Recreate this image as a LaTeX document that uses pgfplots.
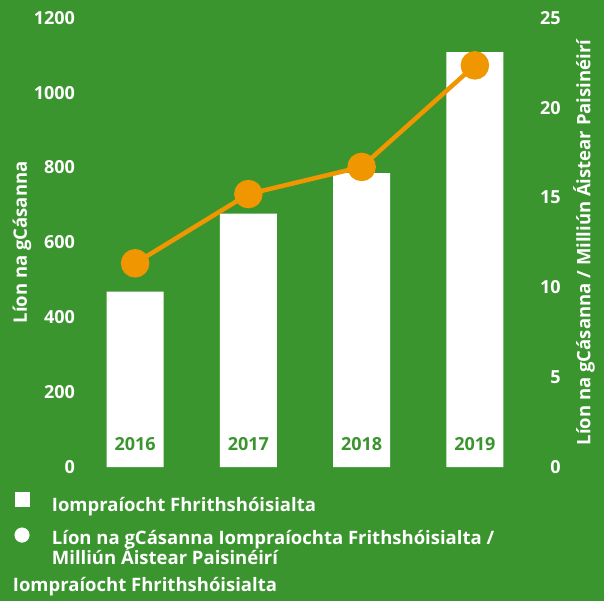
\documentclass[border=0pt]{standalone}
\usepackage{fontspec}
\setmainfont{Open Sans}
\usepackage{pgfplots}
\pgfplotsset{compat=1.18}
\definecolor{bg}{HTML}{3A952E}
\definecolor{org}{HTML}{F09600}
\newcommand{\ff}{\fontsize{18}{17.7}\selectfont\bfseries}
\newcommand{\fl}{\fontsize{18.5}{17.7}\selectfont\bfseries}
\begin{document}
\begin{tikzpicture}
\fill[bg] (0pt,0pt) rectangle (604pt,601pt);
\begin{axis}[
  at={(78.5pt,133.8pt)}, anchor=south west,
  scale only axis, width=453pt, height=449.5pt,
  xmin=-0.5, xmax=3.5, ymin=0, ymax=1200,
  axis lines*=left, axis line style={draw=none},
  major tick length=0pt, xtick style={draw=none}, ytick style={draw=none},
  ytick={0,200,...,1200},
  xtick={0,1,2,3}, xticklabels={2016,2017,2018,2019},
  /pgf/number format/assume math mode=true,
  /pgf/number format/1000 sep={},
  ticklabel style={font=\ff},
  xticklabel style={anchor=base, yshift=17pt, text=bg},
  yticklabel style={text=white},
  ylabel={Líon na gCásanna},
  ylabel style={at={(axis description cs:-0.1247,0.5)}, anchor=center, text=white, font=\fl},
  axis on top,
  legend style={at={(axis description cs:-0.1417,-0.0552)}, anchor=north west,
    draw=none, fill=none, text=white, font=\fl, inner sep=0pt, row sep=14.5pt,
    nodes={inner sep=0pt}},
  legend cell align=left,
]
\addplot[ybar, bar width=57pt, fill=white, draw=none,
  legend image code/.code={\fill[white] (0pt,-2pt) rectangle (15pt,13pt); \path[draw=none,fill=none] (0pt,0pt) -- (37.4pt,0pt);}]
  coordinates {(0,468.5) (1,677) (2,785) (3,1108)};
\addlegendentry{Iompraíocht Fhrithshóisialta}
\addlegendimage{legend image code/.code={\fill[white] (7.5pt,3.5pt) circle[radius=7.3pt]; \path[draw=none,fill=none] (0pt,0pt) -- (37.4pt,0pt);}}
\addlegendentry{\begin{tabular}[t]{@{}l@{}}Líon na gCásanna Iompraíochta Frithshóisialta /\\[-2.5pt]Milliún Áistear Paisinéirí\end{tabular}}
\end{axis}
\begin{axis}[
  at={(78.5pt,133.8pt)}, anchor=south west,
  scale only axis, width=453pt, height=449.5pt,
  xmin=-0.5, xmax=3.5, ymin=0, ymax=25,
  axis y line*=right, axis x line=none, axis line style={draw=none},
  major tick length=0pt, ytick style={draw=none}, xtick=\empty,
  ytick={0,5,...,25},
  /pgf/number format/assume math mode=true,
  yticklabel style={font=\ff, text=white, anchor=east, xshift=32.7pt},
  ylabel={Líon na gCásanna / Milliún Áistear Paisinéirí},
  ylabel style={at={(axis description cs:1.116,0.5)}, anchor=center, text=white, font=\fl},
]
\addplot[org, line width=4.5pt, mark=*, mark size=12pt, mark options={fill=org, draw=none}]
  coordinates {(0,11.34) (1,15.19) (2,16.70) (3,22.35)};
\end{axis}
\node[anchor=base west, inner sep=0pt, text=white, font=\fl] at (12.7pt,9.3pt) {Iompraíocht Fhrithshóisialta};
\end{tikzpicture}
\end{document}
